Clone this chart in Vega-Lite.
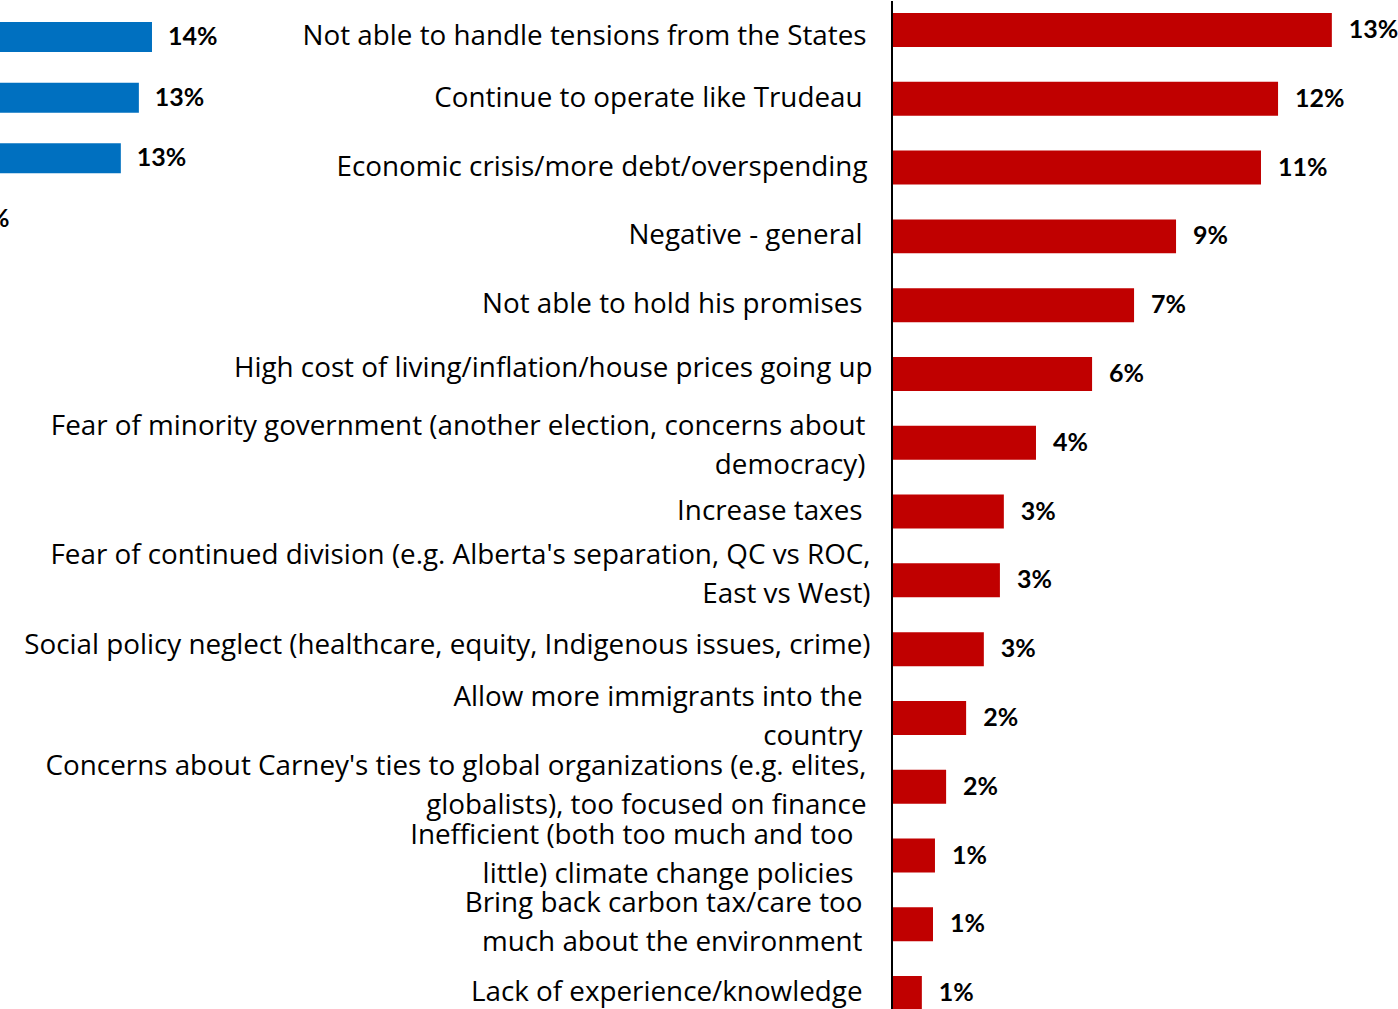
{
  "$schema": "https://vega.github.io/schema/vega-lite/v6.json",
  "padding": 0,
  "background": "white",
  "bounds": "flush",
  "spacing": 642,
  "config": {"view": {"stroke": null}, "font": "Lato"},
  "hconcat": [
    {
      "width": 250,
      "height": 254,
      "data": {"values": [
        {"item": "Row 1", "share": 0.136},
        {"item": "Row 2", "share": 0.132},
        {"item": "Row 3", "share": 0.1265},
        {"item": "Row 4", "share": 0.077}
      ]},
      "layer": [
        {
          "mark": {"type": "bar", "color": "#0070C0", "clip": true},
          "encoding": {
            "y": {"field": "item", "type": "nominal", "sort": null, "axis": null, "scale": {"paddingInner": 0.506, "paddingOuter": 0.346}},
            "x": {"field": "share", "type": "quantitative", "axis": null, "scale": {"domain": [0.08966, 0.16588], "zero": false, "nice": false}}
          }
        },
        {
          "mark": {"type": "text", "align": "left", "baseline": "middle", "dx": 16, "fontSize": 25, "fontWeight": "bold", "color": "#000000", "clip": true},
          "encoding": {
            "y": {"field": "item", "type": "nominal", "sort": null},
            "x": {"field": "share", "type": "quantitative"},
            "text": {"field": "share", "format": ".0%"}
          }
        }
      ]
    },
    {
      "width": 506,
      "height": 1009,
      "data": {"values": [
        {"reason": "Not able to handle tensions from the States", "share": 0.1341},
        {"reason": "Continue to operate like Trudeau", "share": 0.1177},
        {"reason": "Economic crisis/more debt/overspending", "share": 0.1125},
        {"reason": "Negative - general", "share": 0.0866},
        {"reason": "Not able to hold his promises", "share": 0.0738},
        {"reason": "High cost of living/inflation/house prices going up", "share": 0.061},
        {"reason": "Fear of minority government (another election, concerns about|democracy)", "share": 0.0439},
        {"reason": "Increase taxes", "share": 0.0341},
        {"reason": "Fear of continued division (e.g. Alberta's separation, QC vs ROC,|East vs West)", "share": 0.0329},
        {"reason": "Social policy neglect (healthcare, equity, Indigenous issues, crime)", "share": 0.028},
        {"reason": "Allow more immigrants into the|country", "share": 0.0226},
        {"reason": "Concerns about Carney's ties to global organizations (e.g. elites,|globalists), too focused on finance", "share": 0.0165},
        {"reason": "Inefficient (both too much and too|little) climate change policies", "share": 0.0131},
        {"reason": "Bring back carbon tax/care too|much about the environment", "share": 0.0125},
        {"reason": "Lack of experience/knowledge", "share": 0.0091}
      ]},
      "layer": [
        {
          "mark": {"type": "bar", "color": "#C00000", "clip": true},
          "encoding": {
            "y": {
              "field": "reason", "type": "nominal", "sort": null,
              "scale": {"range": [-5.4, 1026.5], "paddingInner": 0.506, "paddingOuter": 0.253},
              "axis": {
                "title": null, "domain": false, "ticks": false, "tickSize": 0, "grid": false,
                "labelFontSize": 27.8, "labelFont": "Open Sans", "labelColor": "#000000",
                "labelLimit": 0, "labelExpr": "split(datum.label, '|')", "labelLineHeight": 39,
                "labelPadding": {"condition": [
                  {"test": "indexof(datum.label, 'Not able to handle') >= 0", "value": 26},
                  {"test": "indexof(datum.label, 'Economic crisis') >= 0", "value": 25},
                  {"test": "indexof(datum.label, 'High cost') >= 0", "value": 20},
                  {"test": "indexof(datum.label, 'Fear of minority') >= 0", "value": 27},
                  {"test": "indexof(datum.label, 'Fear of continued') >= 0", "value": 22},
                  {"test": "indexof(datum.label, 'Social policy') >= 0", "value": 22},
                  {"test": "indexof(datum.label, 'Concerns about') >= 0", "value": 26},
                  {"test": "indexof(datum.label, 'Inefficient') >= 0", "value": 39}
                ], "value": 30},
                "labelOffset": {"condition": [
                  {"test": "indexof(datum.label, 'Not able to handle') >= 0", "value": 7},
                  {"test": "indexof(datum.label, 'High cost') >= 0", "value": -5},
                  {"test": "indexof(datum.label, 'Social policy') >= 0", "value": -3},
                  {"test": "indexof(datum.label, 'Fear of minority') >= 0", "value": -16},
                  {"test": "indexof(datum.label, 'Fear of continued') >= 0", "value": -24},
                  {"test": "indexof(datum.label, '|') >= 0", "value": -20}
                ], "value": 0}
              }
            },
            "x": {"field": "share", "type": "quantitative", "axis": null, "scale": {"domain": [0, 0.15427], "nice": false}}
          }
        },
        {
          "mark": {"type": "text", "align": "left", "baseline": "middle", "dx": 17, "fontSize": 25, "fontWeight": "bold", "color": "#000000"},
          "encoding": {
            "y": {"field": "reason", "type": "nominal", "sort": null},
            "x": {"field": "share", "type": "quantitative"},
            "text": {"field": "share", "format": ".0%"}
          }
        },
        {
          "data": {"values": [{"base": 0}]},
          "mark": {"type": "rule", "color": "#000000", "strokeWidth": 2},
          "encoding": {"x": {"field": "base", "type": "quantitative"}}
        }
      ]
    }
  ]
}
